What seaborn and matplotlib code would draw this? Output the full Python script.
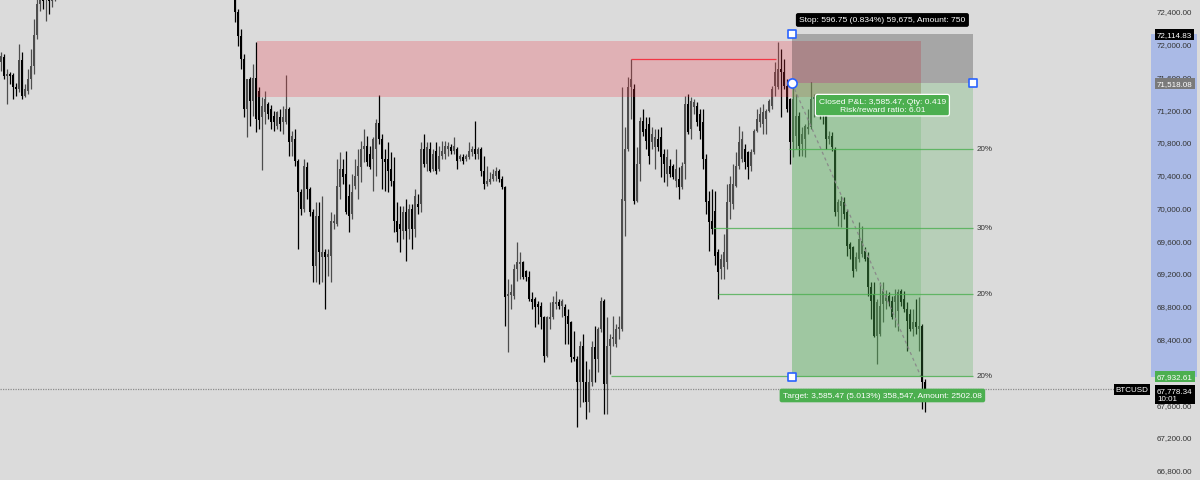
import numpy as np
import matplotlib
matplotlib.use("Agg")
import matplotlib.pyplot as plt
import seaborn as sns
from matplotlib.patches import Rectangle

sns.set_theme(style="white", rc={"axes.facecolor": "#dbdbdb", "figure.facecolor": "#dbdbdb"})
plt.rcParams["font.family"] = ["Liberation Sans", "DejaVu Sans"]

# BTCUSD candles (one per bar, oldest first)
opens = [
    71777, 71838, 71607, 71631, 71619, 71472, 71448, 71802, 71363, 71424,
    71570, 71729, 72107, 72485, 72570, 72546, 72607, 72522, 72607, 72729,
    72810, 72880, 72850, 72940, 73020, 72980, 73060, 73110, 73050, 73140,
    73200, 73170, 73250, 73310, 73280, 73220, 73290, 73350, 73400, 73360,
    73300, 73380, 73440, 73410, 73350, 73290, 73330, 73260, 73200, 73240,
    73180, 73120, 73160, 73090, 73030, 73070, 73000, 72950, 72990, 73040,
    72980, 72920, 72960, 72900, 72850, 72880, 72940, 72890, 72830, 72870,
    72810, 72760, 72800, 72850, 72790, 72740, 72780, 72720, 72668, 72387,
    72095, 71814, 71204, 71570, 71302, 71582, 71424, 71106, 71167, 71265,
    71204, 71119, 70997, 71106, 71045, 71045, 71204, 70801, 70838, 70570,
    70191, 69984, 70496, 70228, 69947, 69289, 69899, 69398, 69459, 69398,
    69411, 69813, 69801, 70252, 70472, 70411, 70143, 69923, 70265, 70387,
    70496, 70716, 70753, 70655, 70594, 70716, 71033, 70838, 70594, 70594,
    70472, 70326, 69838, 69801, 69716, 69947, 69740, 69984, 69740, 70045,
    70045, 70716, 70533, 70716, 70472, 70692, 70472, 70631, 70655, 70716,
    70740, 70692, 70716, 70594, 70618, 70594, 70618, 70679, 70716, 70655,
    70716, 70448, 70289, 70313, 70350, 70387, 70448, 70350, 70252, 68923,
    68935, 68923, 69252, 69313, 69337, 69228, 69154, 68886, 68886, 68825,
    68801, 68666, 68191, 68642, 68666, 68825, 68849, 68801, 68788, 68679,
    68605, 68178, 68154, 67873, 68313, 67873, 67630, 67873, 68300, 68154,
    68520, 68862, 67849, 68313, 68398, 68337, 68520, 68520, 70082, 70716,
    71472, 71448, 70082, 70533, 71058, 70960, 71021, 70801, 70740, 70838,
    70862, 70655, 70411, 70509, 70509, 70326, 70350, 70252, 70533, 71265,
    70960, 71228, 71241, 71143, 71045, 70594, 70082, 69838, 69960, 69459,
    69252, 69276, 69337, 70069, 70045, 70265, 70509, 70594, 70716, 70679,
    70509, 70679, 70936, 71045, 71021, 71082, 71180, 71241, 71485, 71472,
    71692, 71655, 71485, 71326, 70801, 70875, 71119, 70777, 70838, 70960,
    70984, 71326, 71326, 71241, 71180, 71119, 70838, 70875, 70716, 69947,
    70021, 70069, 69947, 69557, 69520, 69252, 69374, 69435, 69472, 69398,
    69032, 68947, 68435, 68459, 68825, 68862, 68923, 68862, 68849, 68740,
    68984, 68886, 68764, 68703, 68520, 68605, 68520, 68557, 67873,
]
highs = [
    71899, 71875, 71692, 71655, 71643, 71521, 71997, 71899, 71509, 71692,
    71936, 72302, 72607, 72790, 72729, 72790, 72790, 72851, 72912, 72870,
    72930, 72910, 72990, 73070, 73050, 73100, 73160, 73130, 73190, 73240,
    73230, 73290, 73360, 73340, 73300, 73330, 73390, 73460, 73420, 73380,
    73420, 73490, 73470, 73430, 73370, 73380, 73350, 73280, 73290, 73260,
    73200, 73210, 73180, 73110, 73120, 73090, 73020, 73040, 73090, 73060,
    73000, 73010, 72980, 72920, 72930, 72990, 72960, 72910, 72920, 72890,
    72830, 72850, 72900, 72870, 72810, 72830, 72800, 72740, 72790, 72424,
    72180, 71875, 71570, 71594, 71753, 72021, 71472, 71350, 71424, 71289,
    71253, 71180, 71180, 71204, 71241, 71619, 71228, 70936, 70960, 70594,
    70228, 70594, 70557, 70252, 69984, 70069, 70069, 70143, 69496, 69496,
    69947, 69923, 70594, 70679, 70594, 70692, 70289, 70411, 70594, 70716,
    70814, 70960, 70875, 70753, 70862, 71082, 71375, 70899, 70716, 70801,
    70679, 70618, 70069, 70021, 70021, 70106, 70045, 70045, 70228, 70167,
    70801, 70899, 70801, 70801, 70716, 70801, 70753, 70814, 70814, 70801,
    70777, 70862, 70740, 70655, 70655, 70655, 70801, 70753, 71058, 70740,
    70740, 70631, 70509, 70435, 70472, 70496, 70472, 70387, 70265, 69130,
    69069, 69313, 69581, 69459, 69350, 69240, 69228, 68971, 68910, 68862,
    68849, 68680, 68679, 68849, 68923, 68984, 68886, 68886, 68825, 68764,
    68618, 68496, 68191, 68374, 68459, 68130, 68032, 68374, 68557, 68544,
    68910, 68886, 68666, 68459, 68679, 68581, 68679, 71472, 70984, 71594,
    71814, 71509, 70740, 71106, 71204, 71106, 71106, 70984, 70960, 70960,
    70984, 70716, 70716, 70594, 70533, 70716, 70496, 70557, 71363, 71387,
    71350, 71326, 71289, 71204, 71204, 70655, 70204, 70228, 70204, 69496,
    69435, 69679, 70289, 70387, 70533, 70679, 70997, 70936, 70777, 70690,
    70716, 70960, 71204, 71228, 71265, 71204, 71326, 71485, 71777, 72021,
    71936, 71814, 71570, 71340, 71509, 71387, 71167, 70984, 71021, 71204,
    71533, 71387, 71387, 71326, 71265, 71241, 70936, 70923, 70740, 70106,
    70143, 70130, 69984, 69581, 69533, 69459, 69825, 69777, 69520, 69459,
    69093, 69093, 68886, 69093, 69093, 68996, 68971, 68923, 69008, 69008,
    69008, 68984, 68849, 68764, 68764, 68886, 68910, 68581, 67910,
]
lows = [
    71668, 71570, 71265, 71509, 71326, 71363, 71411, 71326, 71350, 71387,
    71448, 71631, 72058, 72400, 72424, 72278, 72363, 72448, 72522, 72690,
    72780, 72800, 72830, 72910, 72940, 72960, 73040, 73010, 73030, 73120,
    73130, 73150, 73220, 73240, 73180, 73200, 73270, 73330, 73320, 73260,
    73280, 73350, 73370, 73310, 73250, 73260, 73220, 73160, 73180, 73140,
    73080, 73100, 73050, 72990, 73010, 72960, 72910, 72930, 72970, 72940,
    72880, 72900, 72860, 72810, 72830, 72860, 72850, 72790, 72810, 72770,
    72720, 72740, 72780, 72750, 72700, 72720, 72680, 72630, 72265, 71973,
    71692, 71106, 70862, 70997, 71119, 70923, 70960, 70460, 71021, 71082,
    70960, 70936, 70960, 70936, 70899, 71021, 70631, 70631, 70509, 69496,
    69911, 69947, 70106, 69899, 69093, 69093, 69069, 69093, 68764, 69167,
    69093, 69740, 69777, 70106, 70289, 69923, 69703, 69862, 70228, 70106,
    70313, 70557, 70509, 70472, 70204, 70387, 70777, 70228, 70204, 70191,
    70265, 69703, 69581, 69459, 69618, 69350, 69618, 69496, 69642, 69923,
    69947, 70496, 70448, 70435, 70448, 70411, 70448, 70594, 70594, 70631,
    70655, 70655, 70472, 70570, 70533, 70570, 70594, 70631, 70594, 70594,
    70387, 70228, 70265, 70289, 70326, 70326, 70313, 70228, 68557, 68239,
    68764, 68886, 69106, 69130, 69130, 69106, 68862, 68764, 68544, 68581,
    68520, 68117, 68178, 68520, 68642, 68764, 68764, 68666, 68337, 68337,
    68117, 68130, 67324, 67568, 67630, 67422, 67507, 67825, 67873, 67995,
    68483, 67483, 67483, 67971, 68313, 68300, 68398, 68496, 69655, 70692,
    71082, 70045, 70069, 70326, 70875, 70716, 70533, 70716, 70472, 70692,
    70374, 70313, 70265, 70374, 70350, 70252, 70106, 70228, 70350, 70899,
    70838, 71143, 70997, 70838, 70472, 69923, 69472, 69679, 69301, 68886,
    69130, 69130, 69252, 69862, 69984, 70252, 70472, 70557, 70472, 70350,
    70448, 70655, 70923, 70984, 70899, 70899, 71170, 71204, 71363, 71448,
    71106, 71448, 71167, 70533, 70618, 70716, 70631, 70631, 70618, 70899,
    70960, 71106, 71143, 71082, 71021, 70716, 70777, 70692, 69899, 69777,
    69764, 69862, 69411, 69374, 69154, 69228, 69337, 69398, 69350, 68923,
    68642, 68420, 68093, 68435, 68605, 68764, 68801, 68642, 68544, 68496,
    68801, 68727, 68252, 68496, 68435, 68459, 68252, 67544, 67507,
]
closes = [
    71851, 71607, 71631, 71607, 71472, 71448, 71802, 71363, 71448, 71570,
    71729, 72107, 72485, 72607, 72522, 72644, 72522, 72607, 72729, 72810,
    72880, 72850, 72940, 73020, 72980, 73060, 73110, 73050, 73140, 73200,
    73170, 73250, 73310, 73280, 73220, 73290, 73350, 73400, 73360, 73300,
    73380, 73440, 73410, 73350, 73290, 73330, 73260, 73200, 73240, 73180,
    73120, 73160, 73090, 73030, 73070, 73000, 72950, 72990, 73040, 72980,
    72920, 72960, 72900, 72850, 72880, 72940, 72890, 72830, 72870, 72810,
    72760, 72800, 72850, 72790, 72740, 72780, 72720, 72668, 72387, 72095,
    71814, 71204, 71570, 71302, 71582, 71082, 71070, 71241, 71326, 71143,
    71045, 71045, 71167, 71021, 71106, 71204, 70801, 70875, 70570, 70191,
    69984, 70509, 70228, 69947, 69289, 69899, 69459, 69459, 69398, 69435,
    69838, 69838, 70265, 70472, 70374, 69947, 69899, 70191, 70387, 70509,
    70716, 70753, 70557, 70496, 70838, 71033, 70838, 70594, 70557, 70448,
    70326, 69838, 69703, 69740, 69947, 69716, 69984, 69740, 70143, 70008,
    70716, 70533, 70740, 70448, 70655, 70448, 70631, 70692, 70753, 70753,
    70692, 70753, 70570, 70631, 70570, 70631, 70692, 70716, 70655, 70716,
    70448, 70289, 70326, 70350, 70411, 70448, 70350, 70252, 68910, 68947,
    68971, 69252, 69337, 69337, 69154, 69154, 68886, 68849, 68788, 68788,
    68666, 68191, 68666, 68666, 68849, 68849, 68801, 68862, 68679, 68581,
    68178, 68154, 67873, 68313, 67873, 67630, 67873, 68300, 68154, 68520,
    68862, 67849, 68313, 68398, 68422, 68520, 68544, 70106, 70716, 71472,
    71570, 70082, 70533, 71058, 70923, 70814, 70631, 70899, 70862, 70740,
    70618, 70533, 70618, 70411, 70374, 70472, 70252, 70509, 71265, 70923,
    71302, 71289, 71045, 70936, 70594, 70069, 69825, 69740, 69411, 69215,
    69374, 69459, 70069, 70289, 70289, 70509, 70801, 70838, 70557, 70496,
    70679, 70936, 71082, 71143, 71167, 71180, 71302, 71448, 71655, 71692,
    71655, 71485, 71204, 70801, 71326, 71119, 70753, 70899, 70997, 70984,
    71326, 71350, 71241, 71180, 71119, 70838, 70875, 70740, 69947, 70069,
    70082, 69923, 69533, 69496, 69228, 69398, 69618, 69594, 69374, 69032,
    68862, 68435, 68849, 68801, 68984, 68947, 68849, 68666, 68923, 68971,
    68849, 68764, 68618, 68520, 68605, 68544, 68557, 67873, 67778,
]

price_ticks = [66800, 67200, 67600, 68000, 68400, 68800, 69200, 69600,
               70000, 70400, 70800, 71200, 71600, 72000, 72400]

entry_price = 71518.08
stop_price = 72114.83
target_price = 67932.61
last_price = 67778.34
supply_zone = (71350, 72034)
swing_high = 71814
tp_levels = [70716, 69752, 68947, 67947]
tp_labels = ["20%", "30%", "20%", "20%"]

o = np.array(opens, float)
c = np.array(closes, float)
h = np.maximum(np.array(highs, float), np.maximum(o, c))
l = np.minimum(np.array(lows, float), np.minimum(o, c))
idx = np.arange(len(c))

fig = plt.figure(figsize=(12, 4.81), dpi=100)
ax = fig.add_axes([0, 0, 1150 / 1200, 1])
ax.set_axisbelow(False)
ax.set_xlim(-1 / 3, 383)
ax.set_ylim(66673, 72546)
for s in ax.spines.values():
    s.set_visible(False)
ax.set_xticks([])

# candles
col = np.where(c >= o, "#4d4d4d", "#000000")
ax.vlines(idx, l, h, colors=col, lw=0.9, zorder=2)
ax.bar(idx, np.maximum(np.abs(c - o), 12), bottom=np.minimum(o, c), width=0.9,
       color=col, linewidth=0, zorder=2)

# supply zone + swing high line
ax.add_patch(Rectangle((85.33, supply_zone[0]), 306.67 - 85.33, supply_zone[1] - supply_zone[0],
                       fc="#f23645", alpha=0.25, lw=0, zorder=3))
ax.hlines(swing_high, 210, 258.3, color="#f23645", lw=0.9, zorder=3)

# short position tool
entry_i, exit_i, end_i = 263.67, 306.67, 324
ax.add_patch(Rectangle((entry_i, entry_price), end_i - entry_i, stop_price - entry_price,
                       fc="black", alpha=0.24, lw=0, zorder=3))
ax.add_patch(Rectangle((entry_i, target_price), end_i - entry_i, entry_price - target_price,
                       fc="#4caf50", alpha=0.25, lw=0, zorder=3))
ax.add_patch(Rectangle((entry_i, target_price), exit_i - entry_i, entry_price - target_price,
                       fc="#4caf50", alpha=0.22, lw=0, zorder=3))
sns.lineplot(x=[entry_i, exit_i], y=[entry_price, target_price], ax=ax, color="#8a8a8a",
             lw=0.9, linestyle=(0, (2.5, 2.5)), zorder=4)

starts = [262.67, 237.33, 239, 203.33]
for lev, lab, st in zip(tp_levels, tp_labels, starts):
    ax.hlines(lev, st, end_i, color="#4caf50", lw=0.9, alpha=0.8, zorder=4)
    ax.text(325.3, lev, lab, fontsize=5.8, color="#333333", ha="left", va="center", zorder=5)

# current price dotted line
ax.axhline(last_price, xmin=0, xmax=1115 / 1150, color="#8c8c8c", lw=0.9,
           ls=(0, (1, 1)), zorder=1)

# handles
ax.scatter([entry_i, entry_i, end_i], [stop_price, target_price, entry_price], marker="s",
           s=38, facecolor="white", edgecolor="#2962ff", lw=1.2, zorder=6)
ax.scatter([entry_i], [entry_price], marker="o", s=44, facecolor="white",
           edgecolor="#2962ff", lw=1.2, zorder=6)

# labels
box = dict(boxstyle="round,pad=0.4,rounding_size=0.25", lw=0)
ax.text(293.8, 72290, "Stop: 596.75 (0.834%) 59,675, Amount: 750", fontsize=6.1,
        color="white", ha="center", va="center", zorder=7, bbox={**box, "fc": "black"})
ax.text(293.8, 71250, "Closed P&L: 3,585.47, Qty: 0.419\nRisk/reward ratio: 6.01",
        fontsize=6.1, color="white", ha="center", va="center", linespacing=1.15, zorder=7,
        bbox={**box, "fc": "#4caf50", "ec": "white", "lw": 0.9})
ax.text(293.8, 67705, "Target: 3,585.47 (5.013%) 358,547, Amount: 2502.08", fontsize=6.0,
        color="white", ha="center", va="center", zorder=7, bbox={**box, "fc": "#4caf50"})

# price scale
ax.yaxis.tick_right()
ax.set_yticks(price_ticks)
ax.set_yticklabels([f"{v:,.2f}" for v in price_ticks])
ax.tick_params(axis="y", length=0, pad=5, labelsize=5.8, labelcolor="#333333")
yt = ax.get_yaxis_transform()
ax.add_patch(Rectangle((1151 / 1150, target_price), 46 / 1150, stop_price - target_price,
                       transform=yt, fc="#aabae6", lw=0, clip_on=False, zorder=1))
sq = dict(boxstyle="square,pad=0.25", lw=0)
for val, fc in [(stop_price, "black"), (entry_price, "#7a7a7a"), (target_price, "#4caf50")]:
    ax.text(1157 / 1150, val, f"{val:,.2f}", transform=yt, fontsize=5.8, color="white",
            ha="left", va="center", clip_on=False, zorder=8, bbox={**sq, "fc": fc})
ax.text(1157 / 1150, last_price + 25, f"{last_price:,.2f}\n10:01", transform=yt, fontsize=5.8,
        color="white", ha="left", va="top", linespacing=1.1, clip_on=False, zorder=8,
        bbox={**sq, "fc": "black"})
ax.text(1132 / 1150, last_price, "BTCUSD", transform=yt, fontsize=5.8, color="white",
        ha="center", va="center", clip_on=False, zorder=8, bbox={**sq, "fc": "black"})

fig.savefig("out.png", dpi=100)
